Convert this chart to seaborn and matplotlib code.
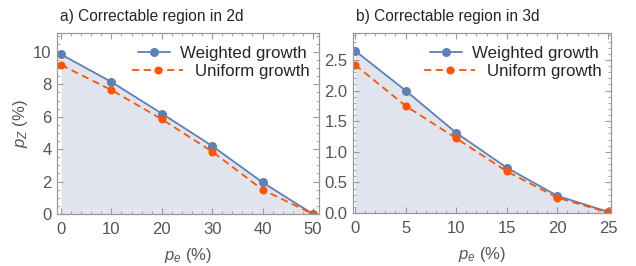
import numpy as np
import pandas as pd
import seaborn as sns
import matplotlib.pyplot as plt
from matplotlib.ticker import MultipleLocator

# ---- data ----
pe_2d = [0, 10, 20, 30, 40, 50]
weighted_2d = [9.85, 8.15, 6.2, 4.2, 1.95, 0.0]
uniform_2d = [9.2, 7.65, 5.85, 3.85, 1.5, 0.0]

pe_3d = [0, 5, 10, 15, 20, 25]
weighted_3d = [2.65, 2.0, 1.31, 0.74, 0.28, 0.02]
uniform_3d = [2.42, 1.75, 1.22, 0.68, 0.25, 0.01]

titles = ["a) Correctable region in 2d", "b) Correctable region in 3d"]

sns.set_style("ticks")
plt.rcParams['font.family'] = ['Liberation Sans', 'DejaVu Sans']
plt.rcParams['mathtext.fontset'] = 'custom'
plt.rcParams['mathtext.it'] = 'Liberation Sans:italic'
plt.rcParams['mathtext.rm'] = 'Liberation Sans'

blue = "#5e81b5"
orange = "#ff5400"
fill = "#dfe4ef"
gray = "#555555"
spine = "#9a9a9a"

fig = plt.figure(figsize=(6.36, 2.66), dpi=100)
ax_a = fig.add_axes([57/636, 1-214/266, 262/636, 181/266])
ax_b = fig.add_axes([353/636, 1-213/266, 258/636, 180/266])

panels = [
    (ax_a, pe_2d, weighted_2d, uniform_2d, (-0.8, 51.2), (0, 11.17), 10, 2, 2, 0.5),
    (ax_b, pe_3d, weighted_3d, uniform_3d, (-0.2, 25.3), (0, 2.94), 5, 1, 0.5, 0.1),
]

for i, (ax, x, w, u, xl, yl, xmaj, xmin, ymaj, ymin) in enumerate(panels):
    df = pd.DataFrame({"pe": x, "Weighted growth": w, "Uniform growth": u})
    ax.fill_between(df["pe"], 0, df["Weighted growth"], color=fill, lw=0, zorder=0)
    sns.lineplot(data=df, x="pe", y="Weighted growth", ax=ax, color=blue, lw=1.3,
                 marker="o", markersize=6.5, markeredgewidth=0, legend=False)
    sns.lineplot(data=df, x="pe", y="Uniform growth", ax=ax, color=orange, lw=1.3,
                 linestyle=(0, (4, 2.5)), marker="o", markersize=5.8,
                 markeredgewidth=0, legend=False)
    ax.set_xlim(*xl)
    ax.set_ylim(*yl)
    ax.xaxis.set_major_locator(MultipleLocator(xmaj))
    ax.xaxis.set_minor_locator(MultipleLocator(xmin))
    ax.yaxis.set_major_locator(MultipleLocator(ymaj))
    ax.yaxis.set_minor_locator(MultipleLocator(ymin))
    if i == 1:
        ax.yaxis.set_major_formatter(plt.FormatStrFormatter("%.1f"))
    ax.tick_params(which="both", direction="in", top=True, right=True,
                   color=spine, labelcolor=gray, labelsize=12)
    ax.tick_params(axis="x", pad=6)
    ax.tick_params(axis="y", pad=4)
    ax.tick_params(which="major", length=4, width=0.8)
    ax.tick_params(which="minor", length=2, width=0.6)
    for s in ax.spines.values():
        s.set_color(spine)
        s.set_linewidth(0.9)
    ax.set_xlabel(r"$p_e$ (%)", color=gray, fontsize=12, labelpad=6)
    ax.set_ylabel(r"$p_Z$ (%)" if i == 0 else "", color=gray, fontsize=12, labelpad=2)
    ax.set_title(titles[i], loc="left", fontsize=11.2, pad=9, x=0.01)

    # two one-entry legends so the labels line up on the right, as in the original
    lines = ax.get_lines()
    leg1 = ax.legend([lines[0]], ["Weighted growth"], loc="upper right", frameon=False,
                     fontsize=12.2, handlelength=1.9, handletextpad=0.6,
                     borderaxespad=0, bbox_to_anchor=(0.98, 0.965))
    ax.add_artist(leg1)
    ax.legend([lines[1]], ["Uniform growth"], loc="upper right", frameon=False,
              fontsize=12.2, handlelength=3.0, handletextpad=0.7,
              borderaxespad=0, bbox_to_anchor=(0.99, 0.865))

fig.savefig("out.png", dpi=100)
